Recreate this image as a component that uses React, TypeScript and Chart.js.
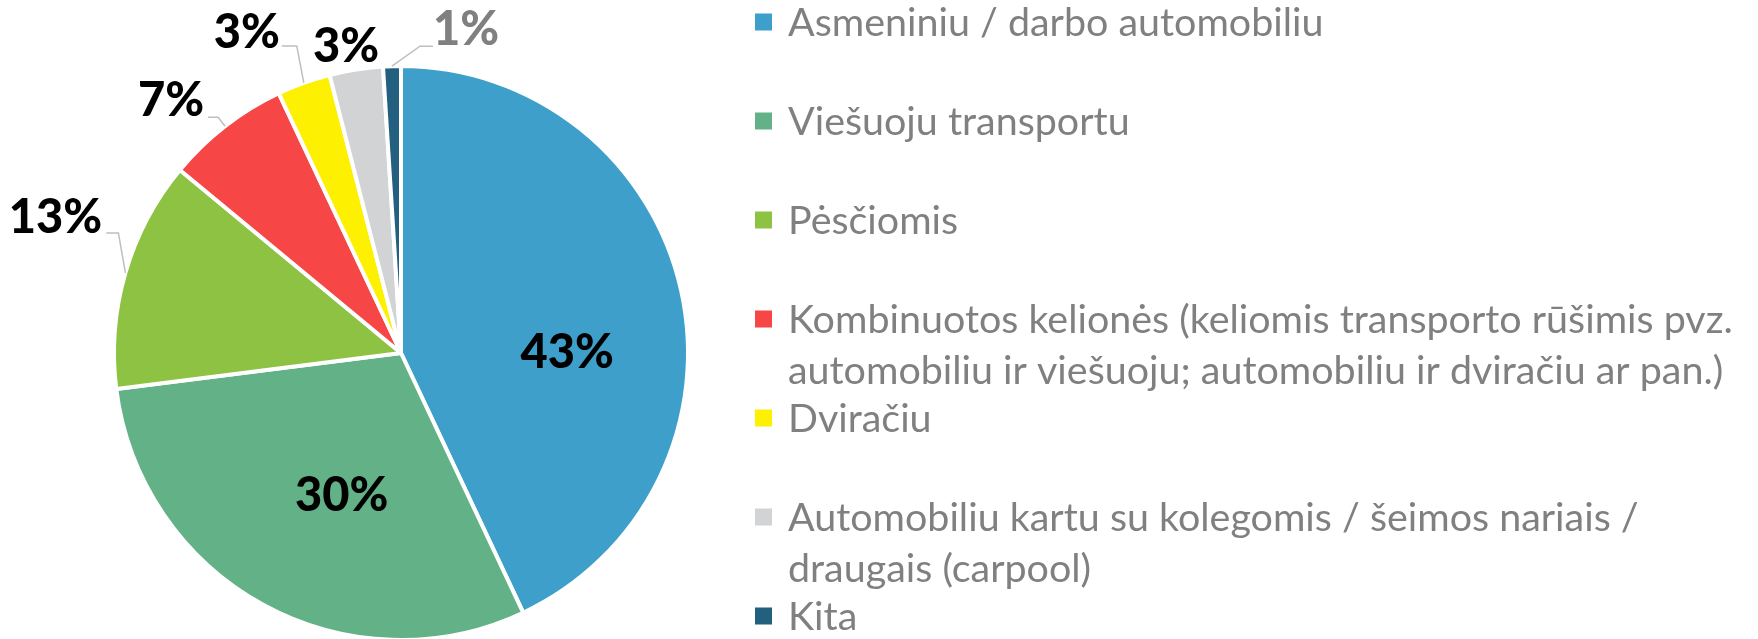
import React, { useEffect, useRef } from 'react';
import { Chart, registerables } from 'chart.js';

Chart.register(...registerables);

// ---- data ----
const categories: (string | string[])[] = [
  'Asmeniniu / darbo automobiliu',
  'Viešuoju transportu',
  'Pėsčiomis',
  ['Kombinuotos kelionės (keliomis transporto rūšimis pvz.', 'automobiliu ir viešuoju; automobiliu ir dviračiu ar pan.)'],
  'Dviračiu',
  ['Automobiliu kartu su kolegomis / šeimos nariais /', 'draugais (carpool)'],
  'Kita',
];
const values = [43, 30, 13, 7, 3, 3, 1];
const percentLabels = ['43%', '30%', '13%', '7%', '3%', '3%', '1%'];

// ---- styles ----
const colors = ['#3E9FCA', '#63B186', '#8DC243', '#F64646', '#FDF000', '#D2D3D5', '#23607F'];
const labelColors = ['#000000', '#000000', '#000000', '#000000', '#000000', '#000000', '#808080'];
const legendTextColor = '#808080';
const leaderColor = '#BFBFBF';

// label layout: inside labels relative to centre (radius units);
// outside labels relative to the slice edge point at mid angle (px)
type LabelLayout =
  | { kind: 'inside'; fx: number; fy: number }
  | { kind: 'outside'; label: [number, number]; leader: [number, number][] };
const labelLayout: LabelLayout[] = [
  { kind: 'inside', fx: 0.579, fy: -0.007 },
  { kind: 'inside', fx: -0.207, fy: 0.491 },
  { kind: 'outside', label: [-70, -57], leader: [[0, 0], [-7, -40], [-19, -40]] },
  { kind: 'outside', label: [-54, -27], leader: [[0, 0], [-7, -9], [-17, -9]] },
  { kind: 'outside', label: [-57, -52], leader: [[0, 0], [-7, -37], [-22, -37]] },
  { kind: 'outside', label: [-10, -25], leader: [] },
  { kind: 'outside', label: [74, -38], leader: [[0, 0], [28, -20], [41, -20]] },
];

const pieLabelsPlugin = {
  id: 'pieLabels',
  afterDatasetsDraw(chart: any) {
    const ctx = chart.ctx as CanvasRenderingContext2D;
    const meta = chart.getDatasetMeta(0);
    ctx.save();
    ctx.font = '900 47px Lato';
    ctx.textAlign = 'center';
    ctx.textBaseline = 'middle';
    meta.data.forEach((arc: any, i: number) => {
      const { x, y, startAngle, endAngle, outerRadius } = arc.getProps(
        ['x', 'y', 'startAngle', 'endAngle', 'outerRadius'],
        true
      );
      const mid = (startAngle + endAngle) / 2;
      const lay = labelLayout[i];
      let lx: number, ly: number;
      if (lay.kind === 'inside') {
        lx = x + lay.fx * outerRadius;
        ly = y + lay.fy * outerRadius;
      } else {
        const ex = x + Math.cos(mid) * outerRadius;
        const ey = y + Math.sin(mid) * outerRadius;
        lx = ex + lay.label[0];
        ly = ey + lay.label[1];
        if (lay.leader.length) {
          ctx.beginPath();
          ctx.strokeStyle = leaderColor;
          ctx.lineWidth = 1.5;
          lay.leader.forEach(([dx, dy], k) => {
            if (k === 0) ctx.moveTo(ex + dx, ey + dy);
            else ctx.lineTo(ex + dx, ey + dy);
          });
          ctx.stroke();
        }
      }
      ctx.fillStyle = labelColors[i];
      ctx.fillText(percentLabels[i], lx, ly + 2);
    });
    ctx.restore();
  },
};

const legendPlugin = {
  id: 'sideLegend',
  afterDraw(chart: any) {
    const ctx = chart.ctx as CanvasRenderingContext2D;
    const markerX = 755;
    const markerSize = 17;
    const textX = 788;
    const textWidth = 945;
    const firstY = 22;
    const step = 99;
    const lineH = 51;
    ctx.save();
    ctx.font = '100px Lato';
    const w100 = ctx.measureText((categories[3] as string[])[0]).width;
    const size = (100 * textWidth) / w100;
    ctx.font = `${size}px Lato`;
    ctx.textBaseline = 'middle';
    ctx.textAlign = 'left';
    categories.forEach((cat, i) => {
      const y = firstY + i * step;
      ctx.fillStyle = colors[i];
      ctx.fillRect(markerX, y - markerSize / 2, markerSize, markerSize);
      ctx.fillStyle = legendTextColor;
      const lines = Array.isArray(cat) ? cat : [cat];
      lines.forEach((ln, k) => ctx.fillText(ln, textX, y + k * lineH + 1));
    });
    ctx.restore();
  },
};

export default function App() {
  const ref = useRef<HTMLCanvasElement | null>(null);
  useEffect(() => {
    document.body.style.margin = '0';
    if (!ref.current) return;
    const chart = new Chart(ref.current, {
      type: 'pie',
      data: {
        labels: categories as any,
        datasets: [
          {
            data: values,
            backgroundColor: colors,
            borderColor: '#FFFFFF',
            borderWidth: 4,
          },
        ],
      },
      options: {
        animation: false,
        responsive: false,
        radius: 287,
        layout: { padding: { left: 114, right: 1070, top: 67, bottom: 0 } },
        plugins: {
          legend: { display: false },
          tooltip: { enabled: false },
        },
      } as any,
      plugins: [pieLabelsPlugin, legendPlugin],
    });
    return () => chart.destroy();
  }, []);
  return (
    <div style={{ width: 1758, height: 639, background: '#fff' }}>
      <canvas ref={ref} width={1758} height={639} />
    </div>
  );
}
